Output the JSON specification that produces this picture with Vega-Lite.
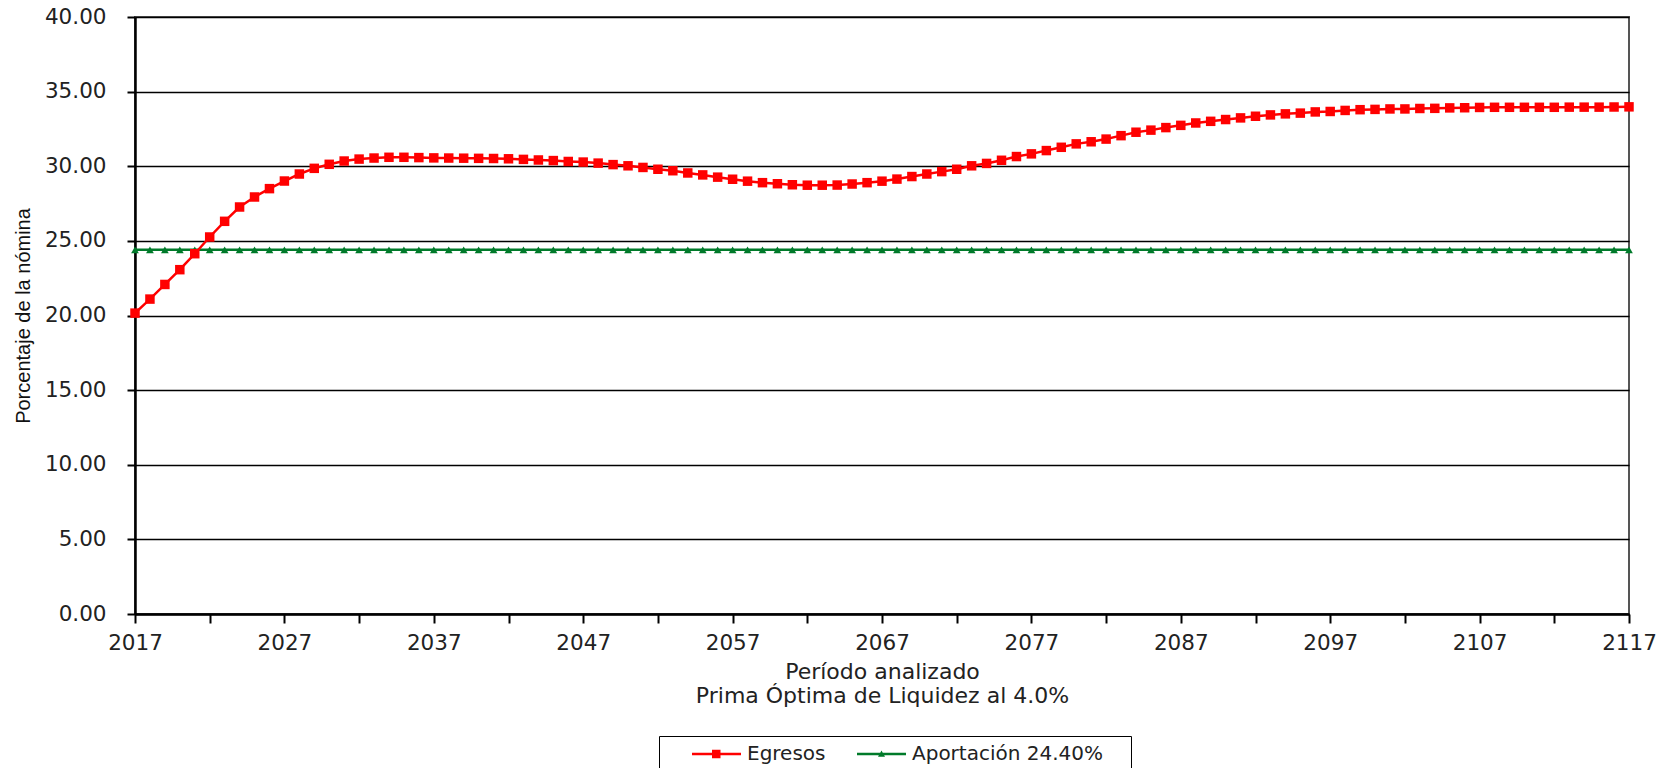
{
  "$schema": "https://vega.github.io/schema/vega-lite/v6.json",
  "width": 1494,
  "height": 597,
  "autosize": {"type": "none"},
  "padding": {"left": 135, "top": 17, "right": 38, "bottom": 154},
  "background": "white",
  "config": {"view": {"stroke": "#555555", "strokeWidth": 2}, "font": "DejaVu Sans"},
  "data": {"values": [
    {"year":2017,"series":"Aportación 24.40%","value":24.4},{"year":2018,"series":"Aportación 24.40%","value":24.4},{"year":2019,"series":"Aportación 24.40%","value":24.4},{"year":2020,"series":"Aportación 24.40%","value":24.4},{"year":2021,"series":"Aportación 24.40%","value":24.4},{"year":2022,"series":"Aportación 24.40%","value":24.4},{"year":2023,"series":"Aportación 24.40%","value":24.4},{"year":2024,"series":"Aportación 24.40%","value":24.4},{"year":2025,"series":"Aportación 24.40%","value":24.4},{"year":2026,"series":"Aportación 24.40%","value":24.4},
    {"year":2027,"series":"Aportación 24.40%","value":24.4},{"year":2028,"series":"Aportación 24.40%","value":24.4},{"year":2029,"series":"Aportación 24.40%","value":24.4},{"year":2030,"series":"Aportación 24.40%","value":24.4},{"year":2031,"series":"Aportación 24.40%","value":24.4},{"year":2032,"series":"Aportación 24.40%","value":24.4},{"year":2033,"series":"Aportación 24.40%","value":24.4},{"year":2034,"series":"Aportación 24.40%","value":24.4},{"year":2035,"series":"Aportación 24.40%","value":24.4},{"year":2036,"series":"Aportación 24.40%","value":24.4},
    {"year":2037,"series":"Aportación 24.40%","value":24.4},{"year":2038,"series":"Aportación 24.40%","value":24.4},{"year":2039,"series":"Aportación 24.40%","value":24.4},{"year":2040,"series":"Aportación 24.40%","value":24.4},{"year":2041,"series":"Aportación 24.40%","value":24.4},{"year":2042,"series":"Aportación 24.40%","value":24.4},{"year":2043,"series":"Aportación 24.40%","value":24.4},{"year":2044,"series":"Aportación 24.40%","value":24.4},{"year":2045,"series":"Aportación 24.40%","value":24.4},{"year":2046,"series":"Aportación 24.40%","value":24.4},
    {"year":2047,"series":"Aportación 24.40%","value":24.4},{"year":2048,"series":"Aportación 24.40%","value":24.4},{"year":2049,"series":"Aportación 24.40%","value":24.4},{"year":2050,"series":"Aportación 24.40%","value":24.4},{"year":2051,"series":"Aportación 24.40%","value":24.4},{"year":2052,"series":"Aportación 24.40%","value":24.4},{"year":2053,"series":"Aportación 24.40%","value":24.4},{"year":2054,"series":"Aportación 24.40%","value":24.4},{"year":2055,"series":"Aportación 24.40%","value":24.4},{"year":2056,"series":"Aportación 24.40%","value":24.4},
    {"year":2057,"series":"Aportación 24.40%","value":24.4},{"year":2058,"series":"Aportación 24.40%","value":24.4},{"year":2059,"series":"Aportación 24.40%","value":24.4},{"year":2060,"series":"Aportación 24.40%","value":24.4},{"year":2061,"series":"Aportación 24.40%","value":24.4},{"year":2062,"series":"Aportación 24.40%","value":24.4},{"year":2063,"series":"Aportación 24.40%","value":24.4},{"year":2064,"series":"Aportación 24.40%","value":24.4},{"year":2065,"series":"Aportación 24.40%","value":24.4},{"year":2066,"series":"Aportación 24.40%","value":24.4},
    {"year":2067,"series":"Aportación 24.40%","value":24.4},{"year":2068,"series":"Aportación 24.40%","value":24.4},{"year":2069,"series":"Aportación 24.40%","value":24.4},{"year":2070,"series":"Aportación 24.40%","value":24.4},{"year":2071,"series":"Aportación 24.40%","value":24.4},{"year":2072,"series":"Aportación 24.40%","value":24.4},{"year":2073,"series":"Aportación 24.40%","value":24.4},{"year":2074,"series":"Aportación 24.40%","value":24.4},{"year":2075,"series":"Aportación 24.40%","value":24.4},{"year":2076,"series":"Aportación 24.40%","value":24.4},
    {"year":2077,"series":"Aportación 24.40%","value":24.4},{"year":2078,"series":"Aportación 24.40%","value":24.4},{"year":2079,"series":"Aportación 24.40%","value":24.4},{"year":2080,"series":"Aportación 24.40%","value":24.4},{"year":2081,"series":"Aportación 24.40%","value":24.4},{"year":2082,"series":"Aportación 24.40%","value":24.4},{"year":2083,"series":"Aportación 24.40%","value":24.4},{"year":2084,"series":"Aportación 24.40%","value":24.4},{"year":2085,"series":"Aportación 24.40%","value":24.4},{"year":2086,"series":"Aportación 24.40%","value":24.4},
    {"year":2087,"series":"Aportación 24.40%","value":24.4},{"year":2088,"series":"Aportación 24.40%","value":24.4},{"year":2089,"series":"Aportación 24.40%","value":24.4},{"year":2090,"series":"Aportación 24.40%","value":24.4},{"year":2091,"series":"Aportación 24.40%","value":24.4},{"year":2092,"series":"Aportación 24.40%","value":24.4},{"year":2093,"series":"Aportación 24.40%","value":24.4},{"year":2094,"series":"Aportación 24.40%","value":24.4},{"year":2095,"series":"Aportación 24.40%","value":24.4},{"year":2096,"series":"Aportación 24.40%","value":24.4},
    {"year":2097,"series":"Aportación 24.40%","value":24.4},{"year":2098,"series":"Aportación 24.40%","value":24.4},{"year":2099,"series":"Aportación 24.40%","value":24.4},{"year":2100,"series":"Aportación 24.40%","value":24.4},{"year":2101,"series":"Aportación 24.40%","value":24.4},{"year":2102,"series":"Aportación 24.40%","value":24.4},{"year":2103,"series":"Aportación 24.40%","value":24.4},{"year":2104,"series":"Aportación 24.40%","value":24.4},{"year":2105,"series":"Aportación 24.40%","value":24.4},{"year":2106,"series":"Aportación 24.40%","value":24.4},
    {"year":2107,"series":"Aportación 24.40%","value":24.4},{"year":2108,"series":"Aportación 24.40%","value":24.4},{"year":2109,"series":"Aportación 24.40%","value":24.4},{"year":2110,"series":"Aportación 24.40%","value":24.4},{"year":2111,"series":"Aportación 24.40%","value":24.4},{"year":2112,"series":"Aportación 24.40%","value":24.4},{"year":2113,"series":"Aportación 24.40%","value":24.4},{"year":2114,"series":"Aportación 24.40%","value":24.4},{"year":2115,"series":"Aportación 24.40%","value":24.4},{"year":2116,"series":"Aportación 24.40%","value":24.4},
    {"year":2117,"series":"Aportación 24.40%","value":24.4},
    {"year":2017,"series":"Egresos","value":20.16},{"year":2018,"series":"Egresos","value":21.10},{"year":2019,"series":"Egresos","value":22.08},{"year":2020,"series":"Egresos","value":23.07},{"year":2021,"series":"Egresos","value":24.14},{"year":2022,"series":"Egresos","value":25.26},{"year":2023,"series":"Egresos","value":26.31},{"year":2024,"series":"Egresos","value":27.27},{"year":2025,"series":"Egresos","value":27.94},{"year":2026,"series":"Egresos","value":28.50},
    {"year":2027,"series":"Egresos","value":29.01},{"year":2028,"series":"Egresos","value":29.48},{"year":2029,"series":"Egresos","value":29.86},{"year":2030,"series":"Egresos","value":30.13},{"year":2031,"series":"Egresos","value":30.35},{"year":2032,"series":"Egresos","value":30.48},{"year":2033,"series":"Egresos","value":30.55},{"year":2034,"series":"Egresos","value":30.60},{"year":2035,"series":"Egresos","value":30.60},{"year":2036,"series":"Egresos","value":30.58},
    {"year":2037,"series":"Egresos","value":30.56},{"year":2038,"series":"Egresos","value":30.55},{"year":2039,"series":"Egresos","value":30.54},{"year":2040,"series":"Egresos","value":30.53},{"year":2041,"series":"Egresos","value":30.52},{"year":2042,"series":"Egresos","value":30.50},{"year":2043,"series":"Egresos","value":30.46},{"year":2044,"series":"Egresos","value":30.42},{"year":2045,"series":"Egresos","value":30.38},{"year":2046,"series":"Egresos","value":30.32},
    {"year":2047,"series":"Egresos","value":30.28},{"year":2048,"series":"Egresos","value":30.21},{"year":2049,"series":"Egresos","value":30.11},{"year":2050,"series":"Egresos","value":30.03},{"year":2051,"series":"Egresos","value":29.92},{"year":2052,"series":"Egresos","value":29.80},{"year":2053,"series":"Egresos","value":29.70},{"year":2054,"series":"Egresos","value":29.55},{"year":2055,"series":"Egresos","value":29.42},{"year":2056,"series":"Egresos","value":29.27},
    {"year":2057,"series":"Egresos","value":29.13},{"year":2058,"series":"Egresos","value":29.00},{"year":2059,"series":"Egresos","value":28.90},{"year":2060,"series":"Egresos","value":28.83},{"year":2061,"series":"Egresos","value":28.76},{"year":2062,"series":"Egresos","value":28.73},{"year":2063,"series":"Egresos","value":28.73},{"year":2064,"series":"Egresos","value":28.74},{"year":2065,"series":"Egresos","value":28.81},{"year":2066,"series":"Egresos","value":28.90},
    {"year":2067,"series":"Egresos","value":29.00},{"year":2068,"series":"Egresos","value":29.14},{"year":2069,"series":"Egresos","value":29.31},{"year":2070,"series":"Egresos","value":29.48},{"year":2071,"series":"Egresos","value":29.64},{"year":2072,"series":"Egresos","value":29.80},{"year":2073,"series":"Egresos","value":30.03},{"year":2074,"series":"Egresos","value":30.19},{"year":2075,"series":"Egresos","value":30.40},{"year":2076,"series":"Egresos","value":30.65},
    {"year":2077,"series":"Egresos","value":30.83},{"year":2078,"series":"Egresos","value":31.05},{"year":2079,"series":"Egresos","value":31.27},{"year":2080,"series":"Egresos","value":31.50},{"year":2081,"series":"Egresos","value":31.64},{"year":2082,"series":"Egresos","value":31.82},{"year":2083,"series":"Egresos","value":32.05},{"year":2084,"series":"Egresos","value":32.28},{"year":2085,"series":"Egresos","value":32.42},{"year":2086,"series":"Egresos","value":32.59},
    {"year":2087,"series":"Egresos","value":32.74},{"year":2088,"series":"Egresos","value":32.90},{"year":2089,"series":"Egresos","value":33.01},{"year":2090,"series":"Egresos","value":33.13},{"year":2091,"series":"Egresos","value":33.24},{"year":2092,"series":"Egresos","value":33.35},{"year":2093,"series":"Egresos","value":33.44},{"year":2094,"series":"Egresos","value":33.51},{"year":2095,"series":"Egresos","value":33.56},{"year":2096,"series":"Egresos","value":33.64},
    {"year":2097,"series":"Egresos","value":33.67},{"year":2098,"series":"Egresos","value":33.74},{"year":2099,"series":"Egresos","value":33.79},{"year":2100,"series":"Egresos","value":33.81},{"year":2101,"series":"Egresos","value":33.84},{"year":2102,"series":"Egresos","value":33.84},{"year":2103,"series":"Egresos","value":33.87},{"year":2104,"series":"Egresos","value":33.88},{"year":2105,"series":"Egresos","value":33.91},{"year":2106,"series":"Egresos","value":33.92},
    {"year":2107,"series":"Egresos","value":33.94},{"year":2108,"series":"Egresos","value":33.95},{"year":2109,"series":"Egresos","value":33.95},{"year":2110,"series":"Egresos","value":33.95},{"year":2111,"series":"Egresos","value":33.95},{"year":2112,"series":"Egresos","value":33.95},{"year":2113,"series":"Egresos","value":33.96},{"year":2114,"series":"Egresos","value":33.96},{"year":2115,"series":"Egresos","value":33.96},{"year":2116,"series":"Egresos","value":33.97},
    {"year":2117,"series":"Egresos","value":33.98}
  ]},
  "encoding": {
    "x": {
      "field": "year", "type": "quantitative",
      "scale": {"domain": [2017, 2117], "nice": false, "zero": false},
      "axis": {
        "values": [2017,2022,2027,2032,2037,2042,2047,2052,2057,2062,2067,2072,2077,2082,2087,2092,2097,2102,2107,2112,2117],
        "format": "d",
        "labelExpr": "(datum.value - 2017) % 10 == 0 ? datum.label : ''",
        "labelOverlap": false,
        "labelFlush": false,
        "grid": false,
        "labelFont": "DejaVu Sans", "labelFontSize": 21.5, "labelColor": "#222222", "labelPadding": 9,
        "tickSize": 9, "tickColor": "#000000", "tickWidth": 2,
        "domainColor": "#000000", "domainWidth": 2.5,
        "title": ["Período analizado", "Prima Óptima de Liquidez al 4.0%"],
        "titleFont": "DejaVu Sans", "titleFontSize": 22, "titleFontWeight": "normal", "titleColor": "#222222",
        "titleLineHeight": 24.5, "titleBaseline": "top", "titleY": 47
      }
    },
    "y": {
      "field": "value", "type": "quantitative",
      "scale": {"domain": [0, 40], "nice": false},
      "axis": {
        "values": [0,5,10,15,20,25,30,35,40],
        "format": ".2f",
        "labelFont": "DejaVu Sans", "labelFontSize": 21.5, "labelColor": "#222222", "labelPadding": 21,
        "tickSize": 8, "tickColor": "#000000", "tickWidth": 2,
        "domainColor": "#000000", "domainWidth": 2.5,
        "grid": true, "gridColor": "#000000", "gridWidth": 1.5, "gridOpacity": 1,
        "title": "Porcentaje de la nómina",
        "titleFont": "Liberation Sans", "titleFontSize": 20, "titleFontWeight": "normal", "titleColor": "#111111",
        "titleAngle": -90, "titleX": -112, "titleY": 298.5, "titleAlign": "center", "titleBaseline": "middle"
      }
    },
    "color": {
      "field": "series", "type": "nominal",
      "scale": {"domain": ["Egresos", "Aportación 24.40%"], "range": ["#ff0000", "#007a2a"]},
      "legend": {
        "orient": "none", "legendX": 524, "legendY": 719,
        "direction": "horizontal",
        "title": " ", "titleOrient": "right", "titlePadding": 20, "titleFontSize": 20,
        "padding": 8, "strokeColor": "#000000",
        "labelFont": "DejaVu Sans", "labelFontSize": 20, "labelColor": "#222222", "labelLimit": 400,
        "labelOffset": 40, "symbolSize": 100, "symbolOffset": 20, "columnPadding": 6,
        "symbolStrokeWidth": 0
      }
    }
  },
  "layer": [
    {
      "mark": {"type": "line", "strokeWidth": 2.5}
    },
    {
      "transform": [{"filter": "datum.series !== 'Egresos'"}],
      "mark": {"type": "point", "filled": true, "opacity": 1, "strokeWidth": 0, "shape": "triangle-up", "size": 60}
    },
    {
      "transform": [{"filter": "datum.series === 'Egresos'"}],
      "mark": {"type": "point", "filled": true, "opacity": 1, "strokeWidth": 0, "shape": "square", "size": 90}
    },
    {
      "transform": [{"filter": "datum.year > 3000"}],
      "mark": {"type": "point", "filled": true, "opacity": 1, "strokeWidth": 0},
      "encoding": {
        "shape": {
          "field": "series", "type": "nominal",
          "scale": {
            "domain": ["Egresos", "Aportación 24.40%"],
            "range": ["M-1,-0.25H8.8V0.25H-1Z M3.0,-0.85H4.7V0.85H3.0Z", "M-1,-0.25H8.8V0.25H-1Z M3.2,0.55L3.9,-0.7L4.6,0.55Z"]
          }
        }
      }
    }
  ]
}
